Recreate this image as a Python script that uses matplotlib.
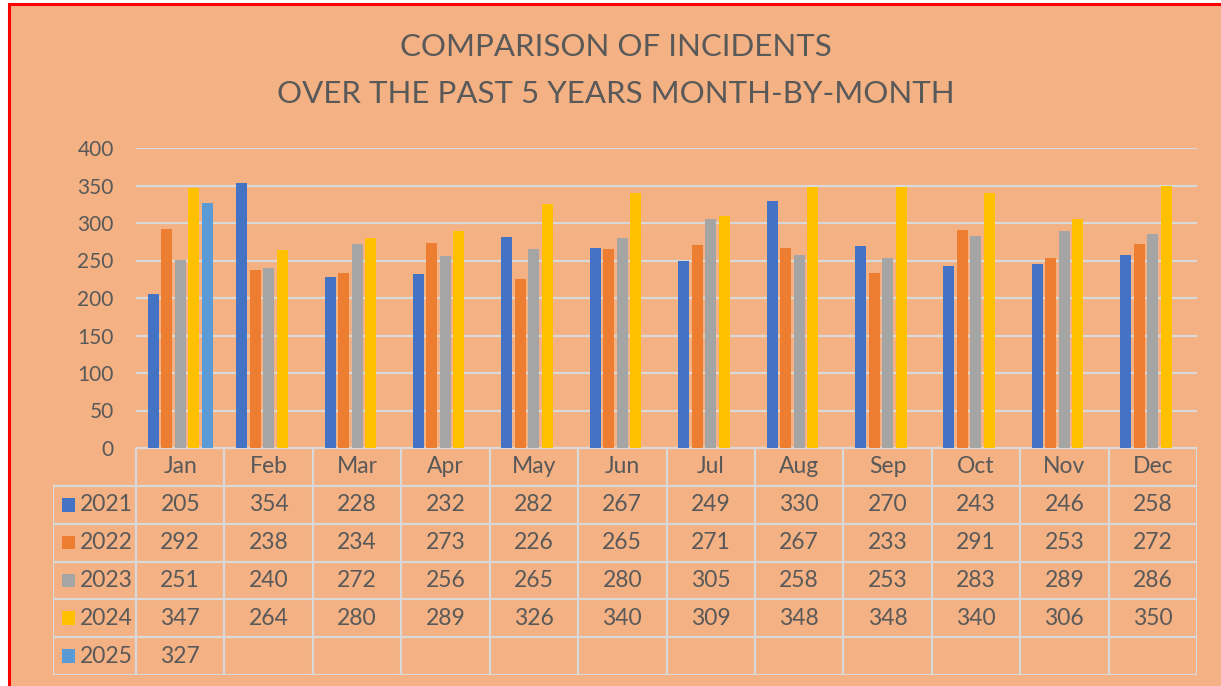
import matplotlib.pyplot as plt
from matplotlib.patches import Rectangle

# dados do grafico
meses = ['Jan', 'Feb', 'Mar', 'Apr', 'May', 'Jun', 'Jul', 'Aug', 'Sep', 'Oct', 'Nov', 'Dec']
anos = ['2021', '2022', '2023', '2024', '2025']
v2021 = [205, 354, 228, 232, 282, 267, 249, 330, 270, 243, 246, 258]
v2022 = [292, 238, 234, 273, 226, 265, 271, 267, 233, 291, 253, 272]
v2023 = [251, 240, 272, 256, 265, 280, 305, 258, 253, 283, 289, 286]
v2024 = [347, 264, 280, 289, 326, 340, 309, 348, 348, 340, 306, 350]
v2025 = [327]
series = [v2021, v2022, v2023, v2024, v2025]
cores = ['#4472C4', '#ED7D31', '#A5A5A5', '#FFC000', '#5B9BD5']

fundo = '#F4B183'
texto = '#595959'
grade = '#D9D9D9'
fonte = 'Lato'

W, H = 1221, 686
fig = plt.figure(figsize=(W / 100, H / 100), dpi=100, facecolor='white')

# moldura vermelha (lados direito e inferior ficam fora da imagem)
fig.patches.append(Rectangle((8.5 / W, -0.2), 1.2, 1.2 - 4 / H, transform=fig.transFigure,
                             facecolor=fundo, edgecolor='#FF0000', linewidth=2.2, zorder=-5))

def fx(px):
    return px / W

def fy(py):
    return 1 - py / H

x0, x1 = 136, 1197
y_top, y_zero = 148, 448
ax = fig.add_axes([fx(x0), fy(y_zero), fx(x1) - fx(x0), fy(y_top) - fy(y_zero)])
ax.set_facecolor('none')
ax.set_xlim(0, 12)
ax.set_ylim(0, 400)
ax.set_yticks(range(0, 401, 50))
ax.yaxis.grid(True, color=grade, linewidth=1.6)
ax.set_axisbelow(True)
ax.set_xticks([])
for s in ax.spines.values():
    s.set_visible(False)
ax.tick_params(axis='y', length=0, pad=16, labelsize=15, labelcolor=texto)
for lbl in ax.get_yticklabels():
    lbl.set_fontfamily(fonte)

passo = 0.1527
largura = 0.124
for i, (vals, cor) in enumerate(zip(series, cores)):
    xs = [m + 0.5 + (i - 2) * passo for m in range(len(vals))]
    ax.bar(xs, vals, width=largura, color=cor, edgecolor='none', zorder=3)

# tabela de dados
cw = (x1 - x0) / 12
tx0 = 53
axt = fig.add_axes([fx(tx0), fy(675), fx(x1) - fx(tx0), fy(448) - fy(675)])
axt.set_xlim(-(x0 - tx0) / cw, 12)
axt.set_ylim(6, 0)
axt.axis('off')
lw = 1.6
left = -(x0 - tx0) / cw
# linhas horizontais
axt.plot([0, 12], [0, 0], color=grade, lw=lw, solid_capstyle='butt')
for r in range(1, 7):
    axt.plot([left, 12], [r, r], color=grade, lw=lw, solid_capstyle='butt')
# linhas verticais
for c in range(13):
    axt.plot([c, c], [0, 6], color=grade, lw=lw, solid_capstyle='butt')
axt.plot([left, left], [1, 6], color=grade, lw=lw, solid_capstyle='butt')

for c, m in enumerate(meses):
    axt.text(c + 0.5, 0.5, m, ha='center', va='center', fontsize=16.5, color=texto, family=fonte)

for r, (ano, vals, cor) in enumerate(zip(anos, series, cores)):
    yy = r + 1.5
    axt.add_patch(Rectangle((left + 9 / cw, yy - 0.18), 13 / cw, 0.36, facecolor=cor, edgecolor='none'))
    axt.text(left + 27 / cw, yy, ano, ha='left', va='center', fontsize=16.5, color=texto, family=fonte)
    for c, v in enumerate(vals):
        axt.text(c + 0.5, yy, str(v), ha='center', va='center', fontsize=16.5, color=texto, family=fonte)

fig.text(fx(616), fy(47), 'COMPARISON OF INCIDENTS', ha='center', va='center',
         fontsize=22.5, color=texto, family=fonte)
fig.text(fx(616), fy(94), 'OVER THE PAST 5 YEARS MONTH-BY-MONTH', ha='center', va='center',
         fontsize=22.5, color=texto, family=fonte)

fig.savefig('out.png', dpi=100, facecolor='white')
